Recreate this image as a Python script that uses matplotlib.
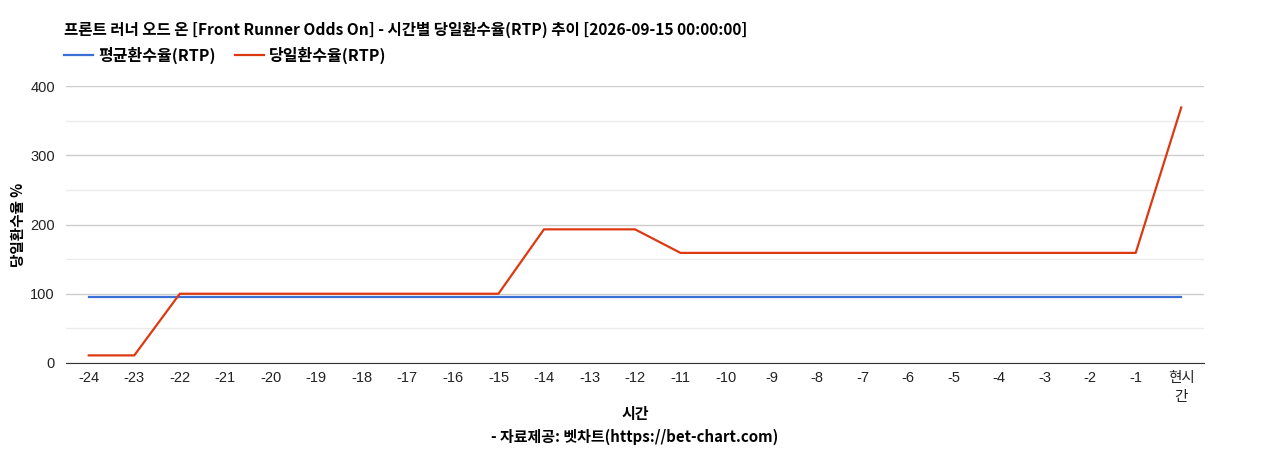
import matplotlib
matplotlib.use("Agg")
import matplotlib.pyplot as plt
from matplotlib.ticker import MultipleLocator

plt.rcParams['font.family'] = ['Liberation Sans', 'Noto Sans CJK KR', 'DejaVu Sans']

# ---------------------------------------------------------------------------
# Data
# ---------------------------------------------------------------------------
hours = [str(h) for h in range(-24, 0)] + ["현시\n간"]
avg_rtp = [96] * 25
day_rtp = [11, 11, 100, 100, 100, 100, 100, 100, 100, 100,
           193, 193, 193, 159, 159, 159, 159, 159, 159, 159,
           159, 159, 159, 159, 369]

TITLE = "프론트 러너 오드 온 [Front Runner Odds On] - 시간별 당일환수율(RTP) 추이 [2026-09-15 00:00:00]"
BLUE = "#3b6fd6"
RED = "#dc3912"
KR = ["Noto Sans CJK KR"]

fig = plt.figure(figsize=(12.68, 4.5), dpi=100)
ax = fig.add_axes([66 / 1268, 87 / 450, (1204 - 66) / 1268, (363 - 86) / 450])

x = range(len(hours))
ax.plot(x, avg_rtp, color=BLUE, lw=1.6, label="평균환수율(RTP)")
ax.plot(x, day_rtp, color=RED, lw=1.6, label="당일환수율(RTP)")

ax.set_xlim(-0.5, len(hours) - 0.5)
ax.set_ylim(0, 400)
ax.set_xticks(list(x))
ax.set_xticklabels(hours, fontsize=10.5, color="#222222", linespacing=1.45)
ax.yaxis.set_major_locator(MultipleLocator(100))
ax.yaxis.set_minor_locator(MultipleLocator(50))
ax.tick_params(axis="y", labelsize=10.5, colors="#222222", length=0, pad=8)
ax.tick_params(axis="x", length=0, pad=6)
ax.tick_params(axis="y", which="minor", length=0)
ax.grid(axis="y", which="major", color="#cccccc", lw=1)
ax.grid(axis="y", which="minor", color="#ebebeb", lw=1)
ax.set_axisbelow(True)
for side in ("top", "right", "left"):
    ax.spines[side].set_visible(False)
ax.spines["bottom"].set_color("#333333")
ax.spines["bottom"].set_zorder(3)

ax.set_ylabel("당일환수율 %", fontsize=10.5, fontweight="bold", family=KR)
ax.yaxis.set_label_coords(-0.035, 0.5)

fig.text(64 / 1268, 1 - 30 / 450, TITLE, fontsize=11.2, fontweight="bold",
         family=KR, va="center", ha="left")
fig.text(635 / 1268, 1 - 414 / 450, "시간", fontsize=10.8, fontweight="bold",
         family=KR, va="center", ha="center")
fig.text(635 / 1268, 1 - 437 / 450, "- 자료제공: 벳차트(https://bet-chart.com)",
         fontsize=10.8, fontweight="bold", family=KR,
         va="center", ha="center")

fig.legend(loc="center left", bbox_to_anchor=(64 / 1268, 1 - 55 / 450),
           ncol=2, frameon=False, handlelength=1.8, handletextpad=0.35,
           columnspacing=1.2, borderpad=0, borderaxespad=0,
           prop={"family": KR, "weight": "bold", "size": 11.5})

fig.savefig("out.png", dpi=100)
